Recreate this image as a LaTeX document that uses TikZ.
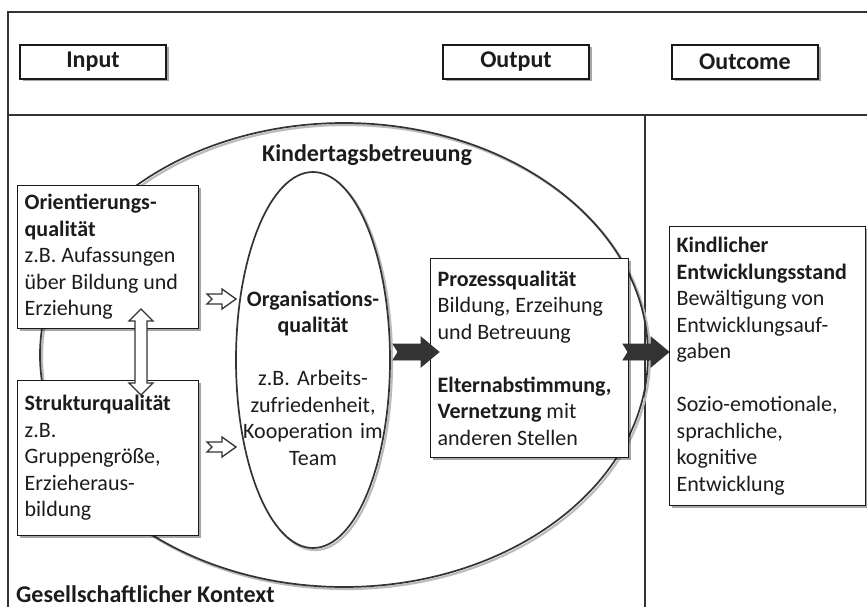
\documentclass[tikz,border=0pt]{standalone}
\usepackage{fontspec}
\setmainfont{Carlito}
\usetikzlibrary{shadows,calc}
\definecolor{ln}{HTML}{333333}
\definecolor{tx}{HTML}{1C1C1C}
\definecolor{shd}{HTML}{BBBBBB}
\begin{document}
\begin{tikzpicture}[x=1pt,y=-1pt,
  every node/.style={text=tx},
  body/.style={font=\fontsize{22}{26.5}\selectfont},
  boxshadow/.style={drop shadow={shadow xshift=2.5pt,shadow yshift=-2.5pt,opacity=0.35,fill=black}},
  qbox/.style={draw=black!90,line width=1.3pt,fill=white,boxshadow,align=flush left,
     anchor=north west,inner xsep=7pt,inner ysep=0pt,body},
  hbox/.style={draw=black!90,line width=1.3pt,fill=white,boxshadow,
     minimum width=146pt,minimum height=34pt,inner sep=0pt,
     font=\bfseries\fontsize{24}{28}\selectfont},
  frameline/.style={draw=ln,line width=2.5pt},
  thinframe/.style={draw=ln,line width=1.4pt},
  ell/.style={draw=ln,line width=1.7pt},
  ellshadow/.style={draw=shd,line width=2.2pt},
  hollow/.style={draw=ln,line width=1.3pt,fill=white,line join=miter},
  darkarrow/.style={fill=ln,draw=ln,line width=0.8pt,line join=miter},
  title/.style={font=\bfseries\fontsize{24}{28}\selectfont,inner sep=0pt}]

\useasboundingbox (0,0) rectangle (867,607);

% frame
\draw[frameline] (8,607) -- (8,12) -- (870,12);
\draw[frameline] (8,115) -- (870,115);
\draw[thinframe] (645,115) -- (645,610);

% header boxes
\node[hbox] (input) at (93,62) {Input};
\node[hbox] (output) at (516,62) {Output};
\node[hbox] (outcome) at (745,62) {Outcome};

% big ellipse
\draw[ellshadow] (346,357) ellipse [x radius=304pt, y radius=232pt];
\draw[ell] (344,355) ellipse [x radius=304pt, y radius=232pt];
\node[title] (kita) at (367,155) {Kindertagsbetreuung};

% inner ellipse
\draw[ellshadow] (315,362) ellipse [x radius=77pt, y radius=188pt];
\draw[ell,fill=white] (313,360) ellipse [x radius=77pt, y radius=188pt];
\node[body,align=center,text width=150pt,inner sep=0pt] (orga) at (313,378)
  {\textbf{Organisations-}\\\textbf{qualität}\\[26.5pt]z.B. Arbeits-\\zufriedenheit,\\Kooperation im\\Team};

% boxes
\node[qbox,text width=167pt,minimum height=143pt] (orient) at (17,185)
  {\textbf{Orientierungs-}\\\textbf{qualität}\\z.B. Aufassungen\\über Bildung und\\Erziehung};
\node[qbox,text width=167pt,minimum height=155pt] (struktur) at (17,380)
  {\textbf{Strukturqualität}\\z.B.\\Gruppengröße,\\Erzieheraus-\\bildung};
\node[qbox,text width=184pt,minimum height=199pt] (prozess) at (430,258)
  {\textbf{Prozessqualität}\\Bildung, Erzeihung\\und Betreuung\\[26.5pt]\textbf{Elternabstimmung,}\\\textbf{Vernetzung} mit\\anderen Stellen};
\node[qbox,text width=182pt,minimum height=279pt] (kind) at (669,226)
  {\textbf{Kindlicher}\\\textbf{Entwicklungsstand}\\Bewältigung von\\Entwicklungsauf-\\gaben\\[26.5pt]Sozio-emotionale,\\sprachliche,\\kognitive\\Entwicklung};

\node[title,anchor=base west] (kontext) at (16,602) {Gesellschaftlicher Kontext};

% hollow notched arrows into Organisationsqualitaet
\coordinate (h1) at (207,299);
\coordinate (h2) at (207,447);
\foreach \c in {h1,h2}{
  \draw[hollow] (\c) ++(0,-5) -- ++(15,0) -- ++(0,-5) -- ++(14,10) -- ++(-14,10)
    -- ++(0,-5) -- ++(-15,0) -- ++(5,-5) -- cycle;
}

% double vertical hollow arrow
\coordinate (dtop) at (141,309);
\draw[hollow] (dtop) -- ++(12,12) -- ++(-6,0) -- ++(0,62) -- ++(6,0) -- ++(-12,12)
  -- ++(-12,-12) -- ++(6,0) -- ++(0,-62) -- ++(-6,0) -- cycle;

% dark notched arrows
\coordinate (d1) at (393,352);
\coordinate (d2) at (623,352);
\foreach \c in {d1,d2}{
  \draw[darkarrow] (\c) ++(0,-8) -- ++(28,0) -- ++(0,-7) -- ++(18,15) -- ++(-18,15)
    -- ++(0,-7) -- ++(-28,0) -- ++(5,-8) -- cycle;
}
\end{tikzpicture}
\end{document}
